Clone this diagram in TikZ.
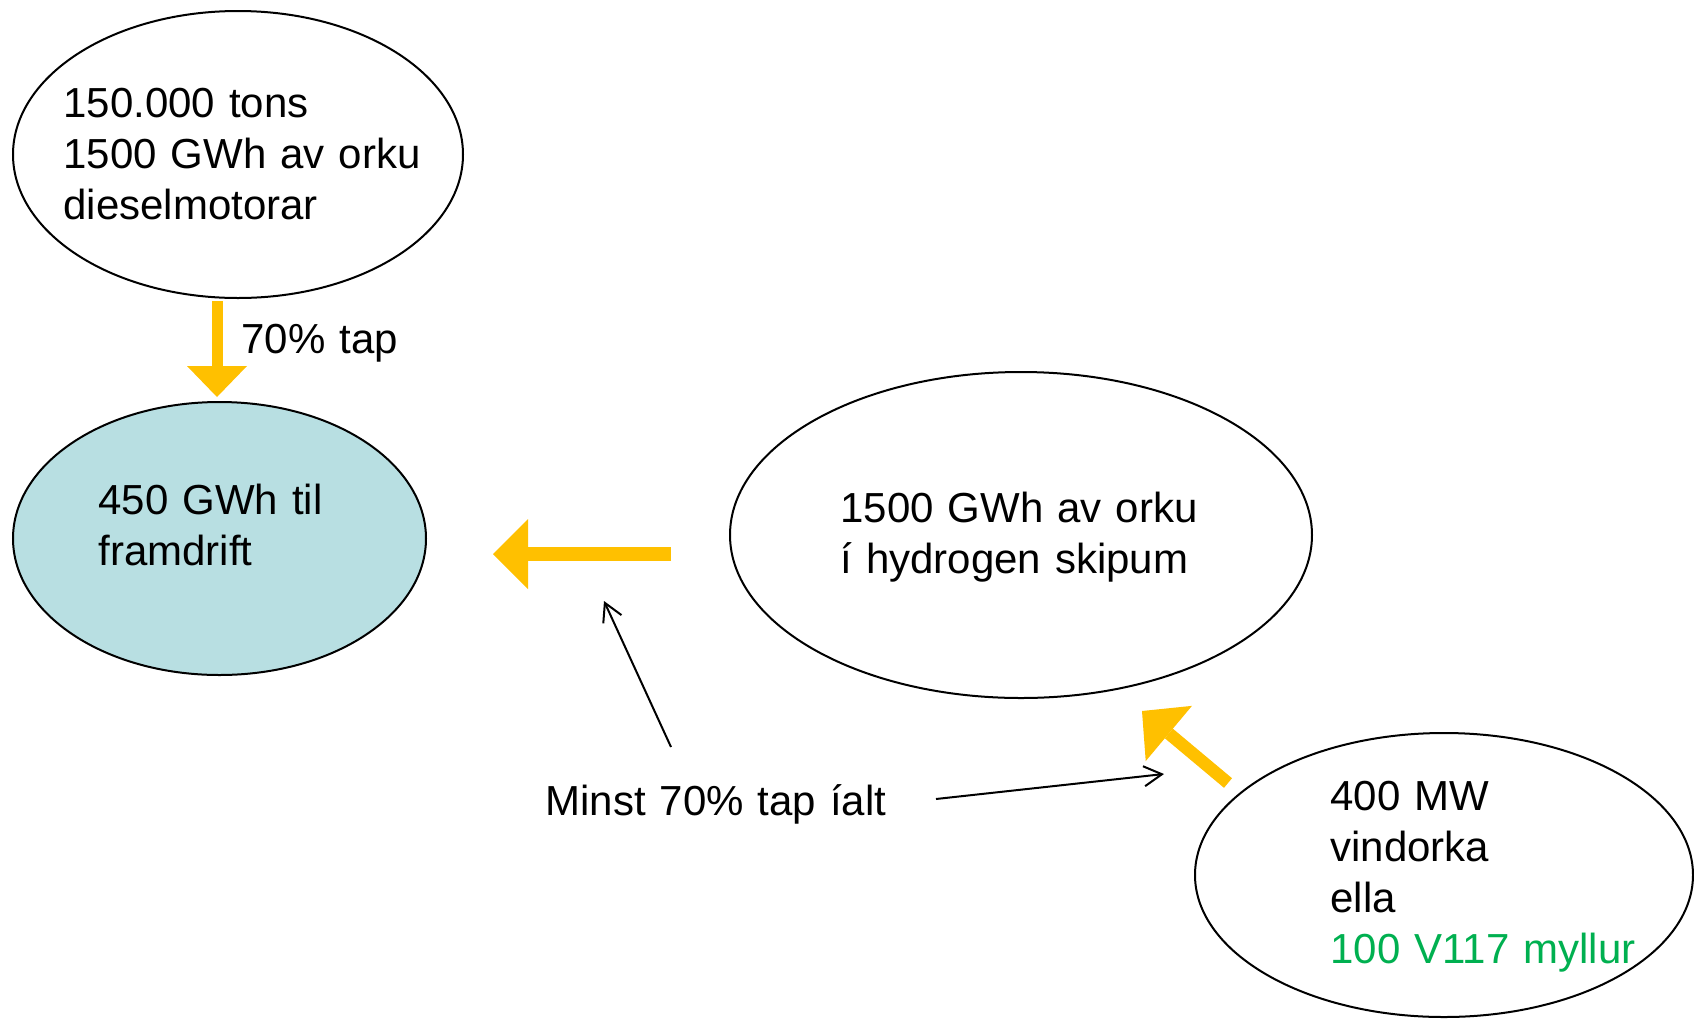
\documentclass[tikz,border=0pt]{standalone}
\usepackage{fontspec}
\setmainfont{Liberation Sans}
\usetikzlibrary{shapes.geometric,arrows.meta}
\definecolor{gold}{RGB}{255,192,0}
\definecolor{paleblue}{RGB}{184,223,226}
\definecolor{mygreen}{RGB}{0,176,80}
\begin{document}
\begin{tikzpicture}[x=0.5pt,y=-0.5pt,
  blob/.style={ellipse,draw=black,line width=1pt,inner sep=0pt},
  txt/.style={anchor=base west,inner sep=0pt,text width=300pt,align=left,
    font=\fontsize{21pt}{25.5pt}\selectfont},
  fat/.style={draw=gold,line width=#1},
  thin/.style={draw=black,line width=1pt,-{Straight Barb[length=9pt,width=10pt]}}
]
\useasboundingbox (0,0) rectangle (1694,1019);
\fill[white] (0,0) rectangle (1694,1019);

% ellipses
\node[blob,minimum width=225pt,minimum height=143.5pt] (diesel) at (238,154.5) {};
\node[blob,fill=paleblue,minimum width=206.5pt,minimum height=136.5pt] (prop) at (219.5,538.5) {};
\node[blob,minimum width=291pt,minimum height=163pt] (hydro) at (1021,535) {};
\node[blob,minimum width=249pt,minimum height=142pt] (wind) at (1444,875) {};

% texts
\node[txt] (tdiesel) at (63,117) {150.000 tons\\1500 GWh av orku\\dieselmotorar};
\node[txt] (tprop) at (98,514) {450 GWh til\\framdrift};
\node[txt] (thydro) at (840,522) {1500 GWh av orku\\í hydrogen skipum};
\node[txt] (twind) at (1330,810) {400 MW\\vindorka\\ella\\\textcolor{mygreen}{100 V117 myllur}};
\node[txt] (tloss) at (241,353) {70\% tap};
\node[txt] (ttotal) at (545,815) {Minst 70\% tap íalt};

% yellow arrows
\coordinate (d1) at (217,301);
\coordinate (d2) at (217,397);
\coordinate (l1) at (671,554);
\coordinate (l2) at (493,554);
\coordinate (g1) at (1228,783);
\coordinate (g2) at (1142,711);
\draw[fat=5.5pt,-{Triangle[length=15.5pt,width=30pt,line width=0pt]}] (d1) -- (d2);
\draw[fat=7pt,-{Triangle[length=17.5pt,width=35pt,line width=0pt]}] (l1) -- (l2);
\draw[fat=6.25pt,-{Triangle[length=17.5pt,width=36pt,line width=0pt]}] (g1) -- (g2);

% thin pointers
\coordinate (p1a) at (671,747);
\coordinate (p1b) at (604,601);
\coordinate (p2a) at (936,799);
\coordinate (p2b) at (1164,774);
\draw[thin] (p1a) -- (p1b);
\draw[thin] (p2a) -- (p2b);
\end{tikzpicture}
\end{document}
